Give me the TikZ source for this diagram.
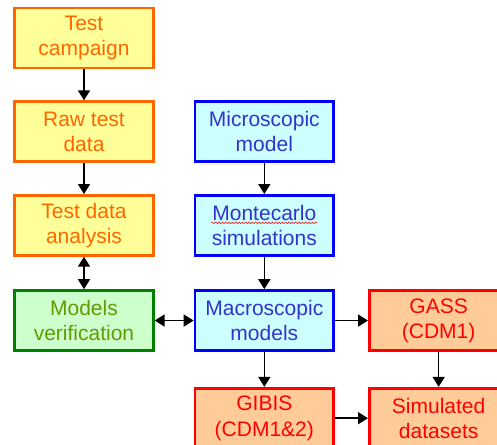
\documentclass[tikz,border=0pt]{standalone}
\usepackage{fontspec}
\setmainfont{Liberation Sans}
\usepackage{tikz}
\usetikzlibrary{positioning,arrows.meta,calc,decorations.pathmorphing}
\usepackage{xcolor}
\definecolor{testfill}{RGB}{255,255,153}
\definecolor{testline}{RGB}{255,102,0}
\definecolor{verfill}{RGB}{204,255,204}
\definecolor{verline}{RGB}{0,128,0}
\definecolor{vertext}{RGB}{102,153,0}
\definecolor{modfill}{RGB}{204,255,255}
\definecolor{modline}{RGB}{0,0,255}
\definecolor{modtext}{RGB}{51,51,204}
\definecolor{codefill}{RGB}{255,204,153}
\definecolor{codeline}{RGB}{255,0,0}
\tikzset{
  flowbox/.style={draw,rectangle,line width=2pt,minimum width=104pt,minimum height=45pt,
    inner sep=1pt,align=center,font=\fontsize{15.75}{19}\selectfont},
  testbox/.style={flowbox,fill=testfill,draw=testline,text=testline},
  verifbox/.style={flowbox,fill=verfill,draw=verline,text=vertext},
  modelbox/.style={flowbox,fill=modfill,draw=modline,text=modtext},
  codebox/.style={flowbox,fill=codefill,draw=codeline,text=codeline},
  every edge/.style={draw,line width=1.2pt,-{Triangle[length=7.5pt,width=9pt]}},
}

\begin{document}
\begin{tikzpicture}[x=0.75pt,y=-0.75pt]

\useasboundingbox (0,0) rectangle (497,444);

\node[testbox] (tc) at (84,38) {Test\\campaign};
\node[testbox,below=23.25pt of tc] (raw) {Raw test\\data};
\node[testbox,below=23.25pt of raw] (tda) {Test data\\analysis};
\node[verifbox,below=24.4pt of tda] (mv) {Models\\verification};

\node[modelbox,right=29.25pt of raw] (ms) {Microscopic\\model};
\node[modelbox,below=23.25pt of ms] (mc) {Montecarlo\\simulations};
\node[modelbox,right=29.25pt of mv] (mm) {Macroscopic\\models};

\node[codebox,right=24.75pt of mm] (gass) {GASS\\(CDM1)};
\node[codebox,below=26.25pt of mm] (gibis) {GIBIS\\(CDM1\&2)};
\node[codebox,below=26.25pt of gass] (sim) {Simulated\\datasets};

\path
(tc) edge (raw)
(raw) edge (tda)
(tda) edge[{Triangle[length=7.5pt,width=9pt]}-{Triangle[length=7.5pt,width=9pt]}] (mv)
(mv) edge[{Triangle[length=7.5pt,width=9pt]}-{Triangle[length=7.5pt,width=9pt]}] (mm)
(ms) edge (mc)
(mc) edge (mm)
(mm) edge (gass)
(mm) edge (gibis)
(gass) edge (sim)
(gibis) edge (sim);

% spell-check squiggle
\draw[red,line width=0.4pt,decorate,decoration={snake,amplitude=0.6pt,segment length=2.5pt}]
  ($(mc.center)+(-53,-2.5)$) -- ($(mc.center)+(53,-2.5)$);

\end{tikzpicture}
\end{document}
